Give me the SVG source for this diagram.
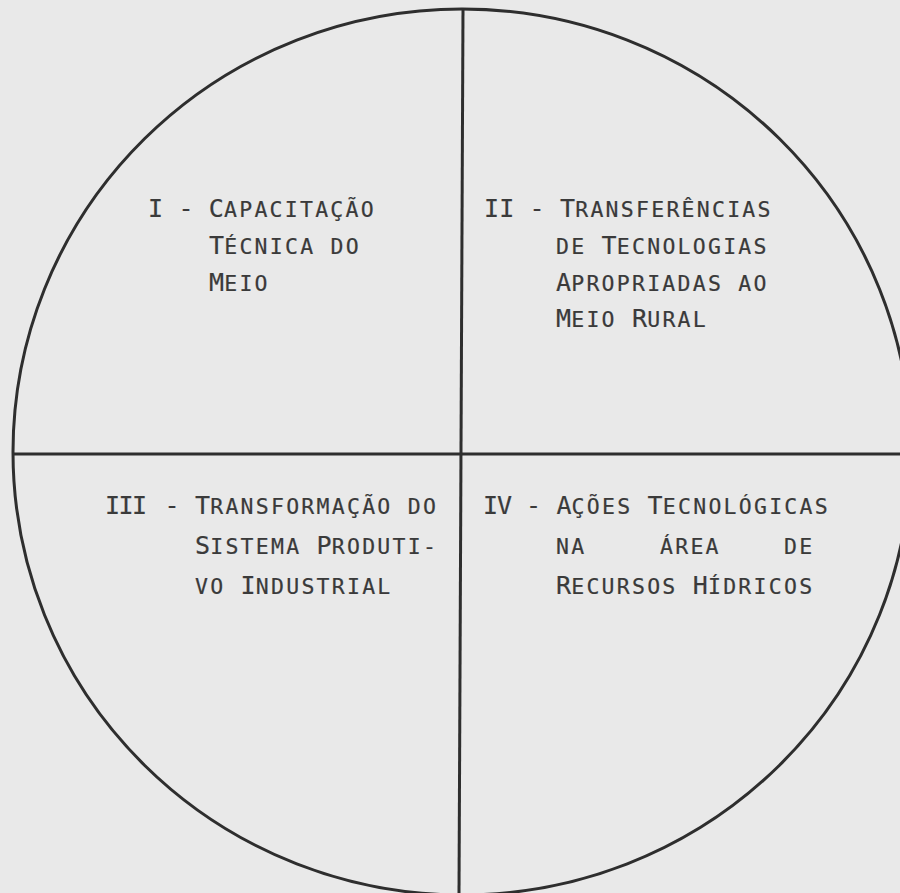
<svg xmlns="http://www.w3.org/2000/svg" width="900" height="893" viewBox="0 0 900 893">
<style>
  .line { fill: none; stroke: #2e2e2e; stroke-width: 3; }
  text { font-family: "DejaVu Sans Mono", "Liberation Mono", monospace; fill: #3a3a3a; stroke: #3a3a3a; stroke-width: 0.2; }
  .b { font-size: 25px; letter-spacing: 0.15px; }
  .s { font-size: 21.5px; letter-spacing: 2.25px; }
</style>
<rect x="0" y="0" width="900" height="893" fill="#e9e9e9"/>
<g id="connectors">
  <ellipse class="line" cx="462" cy="452" rx="449" ry="443"/>
  <line class="line" x1="463" y1="9" x2="459" y2="893"/>
  <line class="line" x1="12" y1="454" x2="900" y2="454"/>
</g>
<g id="q1">
  <text x="148" y="217"><tspan class="b">I - C</tspan><tspan class="s">APACITAÇÃO</tspan></text>
  <text x="209" y="254"><tspan class="b">T</tspan><tspan class="s">ÉCNICA DO</tspan></text>
  <text x="209" y="291"><tspan class="b">M</tspan><tspan class="s">EIO</tspan></text>
</g>
<g id="q2">
  <text x="484" y="217"><tspan class="b">II - T</tspan><tspan class="s">RANSFERÊNCIAS</tspan></text>
  <text x="556" y="254"><tspan class="s">DE </tspan><tspan class="b">T</tspan><tspan class="s">ECNOLOGIAS</tspan></text>
  <text x="556" y="291"><tspan class="b">A</tspan><tspan class="s">PROPRIADAS AO</tspan></text>
  <text x="556" y="327"><tspan class="b">M</tspan><tspan class="s">EIO </tspan><tspan class="b">R</tspan><tspan class="s">URAL</tspan></text>
</g>
<g id="q3">
  <text x="105" y="514"><tspan class="b" style="letter-spacing:-1.5px">III</tspan><tspan class="b" x="164.6">- T</tspan><tspan class="s">RANSFORMAÇÃO DO</tspan></text>
  <text x="195" y="554"><tspan class="b">S</tspan><tspan class="s">ISTEMA </tspan><tspan class="b">P</tspan><tspan class="s">RODUTI-</tspan></text>
  <text x="195" y="594"><tspan class="s">VO </tspan><tspan class="b">I</tspan><tspan class="s">NDUSTRIAL</tspan></text>
</g>
<g id="q4">
  <text x="483" y="514"><tspan class="b" style="letter-spacing:-1px">IV</tspan><tspan class="b" x="526">- A</tspan><tspan class="s">ÇÕES </tspan><tspan class="b">T</tspan><tspan class="s">ECNOLÓGICAS</tspan></text>
  <text x="556" y="554"><tspan class="s">NA</tspan><tspan class="s" x="660">ÁREA</tspan><tspan class="s" x="784">DE</tspan></text>
  <text x="556" y="594"><tspan class="b">R</tspan><tspan class="s">ECURSOS </tspan><tspan class="b">H</tspan><tspan class="s">ÍDRICOS</tspan></text>
</g>
</svg>
